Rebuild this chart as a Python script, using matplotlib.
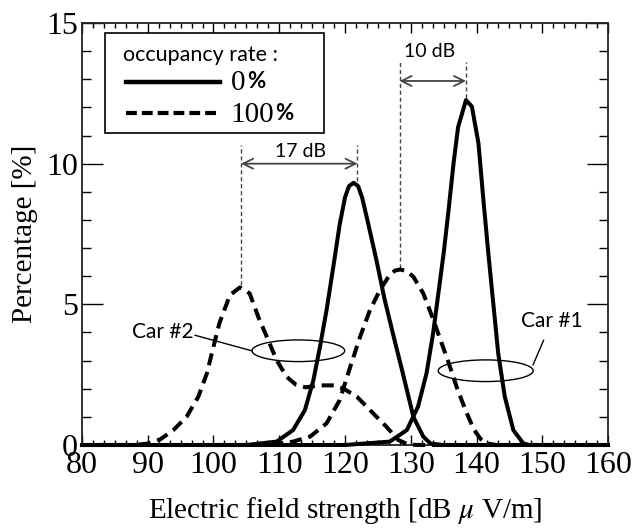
import matplotlib
matplotlib.use("Agg")
import matplotlib.pyplot as plt
from matplotlib.ticker import MultipleLocator
from matplotlib.patches import Ellipse, Rectangle
from matplotlib.lines import Line2D

plt.rcParams['mathtext.fontset'] = 'stix'

# ---------------- data ----------------
car1_solid_x = [80, 120, 126.8, 129.4, 131.1, 132.4, 133.4, 134.2, 135.0, 135.7, 136.5, 137.2,
                138.4, 139.3, 140.3, 141.0, 141.8, 142.6, 143.3, 144.3, 145.6, 147.1, 148, 160]
car1_solid_y = [0, 0, 0.12, 0.53, 1.36, 2.55, 3.97, 5.39, 6.81, 8.24, 10.0, 11.3,
                12.26, 12.03, 10.72, 8.83, 6.81, 4.92, 3.26, 1.72, 0.53, 0.06, 0, 0]

car2_solid_x = [80, 105, 109.6, 112.1, 113.9, 115.2, 116.2, 117.2, 118.2, 119.2, 120.0, 120.6,
                121.3, 122.0, 122.6, 123.5, 124.8, 126.0, 127.3, 128.9, 130.4, 131.9, 133, 135, 160]
car2_solid_y = [0, 0, 0.12, 0.53, 1.24, 2.31, 3.5, 4.8, 6.3, 7.85, 8.8, 9.2,
                9.32, 9.2, 8.8, 7.9, 6.55, 5.2, 3.95, 2.45, 1.0, 0.3, 0.05, 0, 0]

car2_dash_x = [80, 88, 90, 91.9, 93.9, 95.9, 97.7, 99.0, 100.0, 100.9, 102.5, 104.0, 105.5,
               106.8, 108.1, 109.6, 111.1, 112.5, 114.0, 116.2, 118.3, 119.8, 121.8, 123.8,
               126.3, 128.1, 129.5, 131, 160]
car2_dash_y = [0, 0, 0.05, 0.2, 0.53, 1.0, 1.72, 2.55, 3.5, 4.33, 5.33, 5.6, 5.39,
               4.56, 3.85, 3.02, 2.43, 2.15, 2.05, 2.12, 2.12, 2.0, 1.72, 1.24,
               0.65, 0.18, 0.03, 0, 0]

car1_dash_x = [80, 108, 112.1, 114.7, 117.2, 119.2, 120.8, 122.3, 123.8, 125.3, 126.8, 127.6,
               128.4, 129.4, 130.4, 131.9, 133.2, 134.5, 135.8, 137.0, 138.3, 139.6, 140.6,
               141.5, 143, 160]
car1_dash_y = [0, 0, 0.12, 0.3, 0.77, 1.6, 2.78, 3.85, 4.8, 5.5, 6.05, 6.2,
               6.24, 6.18, 5.98, 5.39, 4.6, 3.75, 2.9, 2.05, 1.25, 0.55, 0.22,
               0.06, 0, 0]

x_ticks = [80, 90, 100, 110, 120, 130, 140, 150, 160]
y_ticks = [0, 5, 10, 15]
legend_title = "occupancy rate :"
legend_labels = ["0", "100"]

# ---------------- figure ----------------
fig = plt.figure(figsize=(6.36, 5.28), dpi=100)
ax = fig.add_axes([0.1289, 0.1572, 0.956 - 0.1289, 0.9564 - 0.1572])

lw = 2.9
dash = (3.0, 1.7)
ax.plot(car1_solid_x, car1_solid_y, color='black', lw=lw, clip_on=False, zorder=3)
ax.plot(car2_solid_x, car2_solid_y, color='black', lw=lw, clip_on=False, zorder=3)
ax.plot(car2_dash_x, car2_dash_y, color='black', lw=lw, clip_on=False, dashes=dash, zorder=3)
ax.plot(car1_dash_x, car1_dash_y, color='black', lw=lw, clip_on=False, dashes=dash, zorder=3)

ax.set_xlim(80, 160)
ax.set_ylim(0, 15)
ax.set_xticks(x_ticks)
ax.set_yticks(y_ticks)
ax.xaxis.set_minor_locator(MultipleLocator(10 / 6))
ax.yaxis.set_minor_locator(MultipleLocator(1))
serif = 'Liberation Serif'
ax.set_xticklabels([str(v) for v in x_ticks], family=serif, fontsize=23)
ax.set_yticklabels([str(v) for v in y_ticks], family=serif, fontsize=23)
ax.tick_params(axis='x', which='major', direction='in', length=7, width=1, top=True, pad=4)
ax.tick_params(axis='x', which='minor', direction='in', length=3.5, width=1, top=True)
ax.tick_params(axis='y', which='major', direction='in', length=15, width=1, right=True, pad=3)
ax.tick_params(axis='y', which='minor', direction='in', length=6.5, width=1, right=True)
for s in ax.spines.values():
    s.set_linewidth(1.3)
    s.set_color('#222222')

ax.set_xlabel(r"Electric field strength [dB $\mu$ V/m]", family=serif, fontsize=21, labelpad=11)
ax.set_ylabel("Percentage [%]", family=serif, fontsize=21, labelpad=6)

# ---------------- annotations ----------------
gray = '#444444'
sans = 'Lato'
for xv, ytop, ybot in [(104.2, 10.67, 5.7), (121.9, 10.67, 9.4), (128.3, 13.6, 6.3), (138.4, 13.6, 12.35)]:
    ax.plot([xv, xv], [ybot, ytop], color=gray, lw=1, dashes=(3, 2))
arrowprops = dict(arrowstyle='<->', color=gray, lw=1.3, shrinkA=0, shrinkB=0, mutation_scale=18)
ax.annotate('', xy=(104.2, 10.0), xytext=(121.9, 10.0), arrowprops=arrowprops)
ax.annotate('', xy=(128.3, 12.94), xytext=(138.4, 12.94), arrowprops=arrowprops)
ax.text(113.3, 10.42, "17 dB", family=sans, fontsize=14, ha='center', va='center')
ax.text(132.9, 13.97, "10 dB", family=sans, fontsize=14, ha='center', va='center')

ax.add_patch(Ellipse((112.9, 3.35), 14.1, 0.77, fill=False, lw=1, ec='black'))
ax.add_patch(Ellipse((141.4, 2.64), 14.45, 0.77, fill=False, lw=1, ec='black'))
ax.plot([97.2, 105.8], [3.90, 3.35], color='black', lw=1)
ax.plot([148.6, 150.2], [2.85, 3.72], color='black', lw=1)
ax.text(97.0, 4.0, "Car #2", family=sans, fontsize=15, ha='right', va='center')
ax.text(146.8, 4.4, "Car #1", family=sans, fontsize=15, ha='left', va='center')

# ---------------- legend (manual) ----------------
ax.add_patch(Rectangle((0.0437, 0.739), 0.460 - 0.0437, 0.976 - 0.739, transform=ax.transAxes,
                       fill=True, fc='white', ec='black', lw=1.2, zorder=4))
ax.text(0.078, 0.925, legend_title, transform=ax.transAxes, family=sans, fontsize=15.5,
        ha='left', va='center', zorder=5)
ax.add_line(Line2D([0.0837, 0.262], [0.861, 0.861], transform=ax.transAxes, color='black',
                   lw=3.2, zorder=5))
ax.add_line(Line2D([0.0837, 0.262], [0.786, 0.786], transform=ax.transAxes, color='black',
                   lw=3.0, dashes=(2.6, 1.2), zorder=5))
ax.text(0.283, 0.858, legend_labels[0], transform=ax.transAxes, family=serif, fontsize=21,
        ha='left', va='center', zorder=5)
ax.text(0.313, 0.861, "%", transform=ax.transAxes, family=sans, fontweight='bold', fontsize=16,
        ha='left', va='center', zorder=5)
ax.text(0.283, 0.783, legend_labels[1], transform=ax.transAxes, family=serif, fontsize=21,
        ha='left', va='center', zorder=5)
ax.text(0.367, 0.786, "%", transform=ax.transAxes, family=sans, fontweight='bold', fontsize=16,
        ha='left', va='center', zorder=5)

fig.savefig("out.png", dpi=100)
